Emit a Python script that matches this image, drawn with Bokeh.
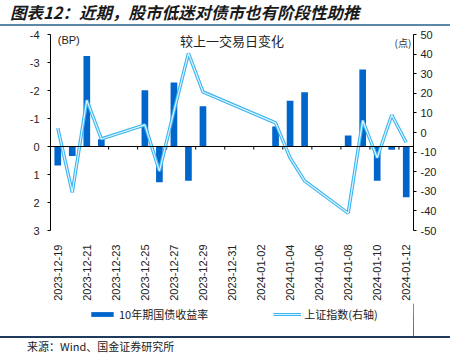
import math
import pandas as pd
from bokeh.plotting import figure
from bokeh.models import (Range1d, LinearAxis, FixedTicker, DatetimeTickFormatter,
                          Span, Legend, LegendItem, Label, Div, ColumnDataSource)
from bokeh.layouts import column
from bokeh.embed import file_html
from bokeh.resources import INLINE

# ---- data ----
dates = ["2023-12-19", "2023-12-20", "2023-12-21", "2023-12-22", "2023-12-25",
         "2023-12-26", "2023-12-27", "2023-12-28", "2023-12-29", "2024-01-03",
         "2024-01-04", "2024-01-05", "2024-01-08", "2024-01-09", "2024-01-10",
         "2024-01-11", "2024-01-12"]
bond_bp = [0.68, 0.34, -3.23, -0.26, -2.01, 1.28, -2.29, 1.22, -1.44, -0.71,
           -1.63, -1.94, -0.39, -2.75, 1.22, 0.12, 1.81]
sse_pts = [2.2, -30.6, 16.5, -3.3, 3.9, -19.7, 10.8, 40.4, 20.7, 4.9,
           -12.9, -24.7, -41.2, 6.1, -12.9, 8.9, -5.1]
tick_labels = ["2023-12-19", "2023-12-21", "2023-12-23", "2023-12-25", "2023-12-27",
               "2023-12-29", "2023-12-31", "2024-01-02", "2024-01-04", "2024-01-06",
               "2024-01-08", "2024-01-10", "2024-01-12"]
left_ticks = [-4, -3, -2, -1, 0, 1, 2, 3]
right_ticks = [50, 40, 30, 20, 10, 0, -10, -20, -30, -40, -50]

title_text = "图表12：近期，股市低迷对债市也有阶段性助推"
source_text = "来源：Wind、国金证券研究所"
bar_name = "10年期国债收益率"
line_name = "上证指数(右轴)"

DAY = 86400000.0
x = pd.to_datetime(dates)
src = ColumnDataSource(dict(x=x, bp=bond_bp, pts=sse_pts))
tick_ms = [pd.Timestamp(t).value / 1e6 for t in tick_labels]

x0 = pd.Timestamp(dates[0]).value / 1e6 - 0.5 * DAY
x1 = pd.Timestamp(dates[-1]).value / 1e6 + 0.5 * DAY

CJK = "Noto Sans CJK SC"
LAT = "Liberation Sans"
BAR_C = "#0066CC"
LINE_OUT = "#3BB5F0"
LINE_IN = "#DDF4FF"

p = figure(width=458, height=277, x_axis_type="datetime",
           x_range=Range1d(x0, x1), y_range=Range1d(3, -4),
           output_backend="svg", toolbar_location=None,
           min_border_left=50, min_border_right=45, min_border_top=8,
           min_border_bottom=72)
p.outline_line_color = None
p.xgrid.visible = False
p.ygrid.visible = False
p.background_fill_color = "white"
p.border_fill_color = "white"

p.extra_y_ranges = {"right": Range1d(-50, 50)}

# x axis
xa = p.xaxis[0]
xa.ticker = FixedTicker(ticks=tick_ms)
xa.formatter = DatetimeTickFormatter(days="%Y-%m-%d", months="%Y-%m-%d",
                                     hours="%Y-%m-%d", years="%Y-%m-%d")
xa.major_label_orientation = math.pi / 2
xa.axis_line_color = None
xa.major_tick_line_color = None
xa.minor_tick_line_color = None
xa.major_label_standoff = 8
xa.major_label_text_font = LAT
xa.major_label_text_font_size = "11px"
xa.major_label_text_color = "#222222"

# left axis
ya = p.yaxis[0]
ya.ticker = FixedTicker(ticks=left_ticks)
ya.major_label_overrides = {t: str(t) for t in left_ticks}
ya.major_tick_out = 3
ya.major_tick_in = 0
ya.minor_tick_line_color = None
ya.major_label_standoff = 8
ya.major_label_text_font = LAT
ya.major_label_text_font_size = "11px"
ya.major_label_text_color = "#222222"
ya.axis_line_color = "black"

# right axis
ra = LinearAxis(y_range_name="right", ticker=FixedTicker(ticks=right_ticks))
ra.major_label_overrides = {t: str(t) for t in right_ticks}
ra.major_tick_out = 3
ra.major_tick_in = 0
ra.minor_tick_line_color = None
ra.major_label_standoff = 4
ra.major_label_text_font = LAT
ra.major_label_text_font_size = "11px"
ra.major_label_text_color = "#222222"
ra.axis_line_color = "black"
p.add_layout(ra, "right")

# bars
bars = p.vbar(x="x", top="bp", bottom=0, width=0.46 * DAY, source=src,
              fill_color=BAR_C, line_color=None)

# zero line + tick marks (half a day before each labelled date)
p.add_layout(Span(location=0, dimension="width", line_color="black", line_width=1))
tick_src = ColumnDataSource(dict(tx=[t - 0.5 * DAY for t in tick_ms]))
p.segment(x0="tx", x1="tx", y0=0, y1=0.11, source=tick_src,
          line_color="black", line_width=1)

# compound line (right axis)
p.line(x="x", y="pts", source=src, y_range_name="right",
       line_color=LINE_OUT, line_width=3.4)
p.line(x="x", y="pts", source=src, y_range_name="right",
       line_color=LINE_IN, line_width=1.2)

# annotations
p.add_layout(Label(x=pd.Timestamp(dates[0]).value / 1e6, y=-3.8, text="(BP)",
                   text_font=LAT, text_font_size="11px", text_color="#222222",
                   text_baseline="middle", text_align="left"))
p.add_layout(Label(x=pd.Timestamp("2023-12-31").value / 1e6, y=-3.8,
                   text="较上一交易日变化", text_font=CJK, text_font_size="13px",
                   text_color="#222222", text_baseline="middle", text_align="center"))
p.add_layout(Label(x=pd.Timestamp(dates[-1]).value / 1e6 + 0.35 * DAY, y=-3.7,
                   text="(点)", text_font=CJK, text_font_size="10px",
                   text_color="#333333", text_baseline="middle", text_align="right"))

# ---- legend strip (separate small figure; data lies outside its ranges) ----
lg = figure(width=458, height=33, x_range=Range1d(0, 1), y_range=Range1d(0, 1),
            output_backend="svg", toolbar_location=None,
            x_axis_location=None, y_axis_location=None,
            min_border_left=0, min_border_right=0, min_border_top=0,
            min_border_bottom=0)
lg.xgrid.visible = False
lg.ygrid.visible = False
lg.outline_line_color = None
lb = lg.vbar(x="x", top="bp", bottom=0, width=0.46 * DAY, source=src,
             fill_color=BAR_C, line_color=None)
lo = lg.line(x="x", y="pts", source=src, line_color=LINE_OUT, line_width=3.0)
li = lg.line(x="x", y="pts", source=src, line_color=LINE_IN, line_width=1.0)
legend = Legend(items=[LegendItem(label=bar_name, renderers=[lb]),
                       LegendItem(label=line_name, renderers=[lo, li])],
                orientation="horizontal", location=(38, 14),
                glyph_width=28, glyph_height=6, label_standoff=3, spacing=65,
                label_text_font=CJK, label_text_font_size="11px",
                label_text_color="#222222", border_line_color=None,
                background_fill_alpha=0, padding=2, margin=0)
lg.add_layout(legend)

title_div = Div(text=title_text, width=458, height=24, margin=0,
                styles={"font-family": CJK, "font-size": "16.5px", "font-weight": "bold",
                        "font-style": "italic", "line-height": "24px",
                        "color": "#1a1a1a", "padding-left": "10px", "white-space": "nowrap"})
line1 = Div(text="", width=450, height=2, margin=0,
            styles={"background-color": "#5B87A8"})
line2 = Div(text="", width=450, height=2, margin=0,
            styles={"background-color": "#1F3B5C"})
source_div = Div(text=source_text, width=458, height=17, margin=0,
                 styles={"font-family": CJK, "font-size": "11px", "line-height": "17px",
                         "color": "#222222", "padding-left": "27px", "white-space": "nowrap"})

layout = column(title_div, line1, p, lg, line2, source_div, spacing=0)
open("out.html", "w").write(file_html(layout, INLINE))
